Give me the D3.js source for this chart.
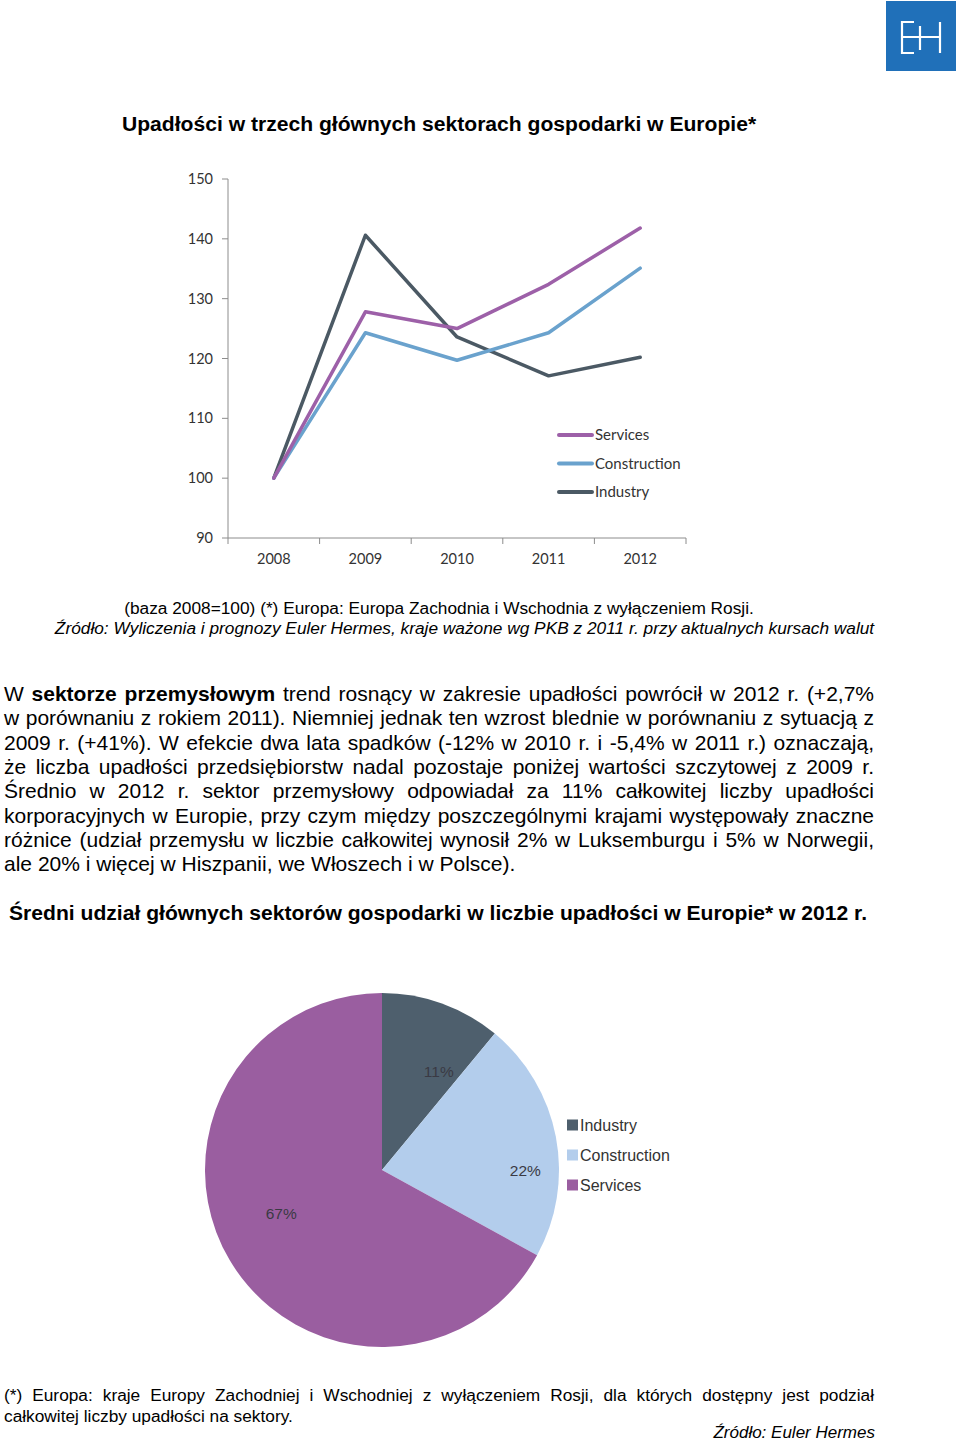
<!DOCTYPE html>
<html><head><meta charset="utf-8">
<script src="https://cdn.jsdelivr.net/npm/d3@7"></script>
<style>
html,body{margin:0;padding:0;background:#fff;}
svg{display:block;}
</style></head>
<body>
<svg id="c" width="960" height="1443"></svg>
<script>
// ---------- data ----------
const years = ["2008","2009","2010","2011","2012"];
const yTicks = [90,100,110,120,130,140,150];
const seriesNames = ["Services","Construction","Industry"];
const servicesValues = [100,127.8,125.0,132.4,141.8];
const constructionValues = [100,124.3,119.7,124.3,135.1];
const industryValues = [100,140.6,123.6,117.1,120.2];
const pieCategories = ["Industry","Construction","Services"];
const pieValues = [11,22,67];
const pieLabels = ["11%","22%","67%"];

const title1 = "Upadłości w trzech głównych sektorach gospodarki w Europie*";
const caption1 = "(baza 2008=100) (*) Europa: Europa Zachodnia i Wschodnia z wyłączeniem Rosji.";
const caption2 = "Źródło: Wyliczenia i prognozy Euler Hermes, kraje ważone wg PKB z 2011 r. przy aktualnych kursach walut";
const paragraphLines = [
  [["W ",0],["sektorze przemysłowym",1],[" trend rosnący w zakresie upadłości powrócił w 2012 r. (+2,7%",0]],
  [["w porównaniu z rokiem 2011). Niemniej jednak ten wzrost blednie w porównaniu z sytuacją z",0]],
  [["2009 r. (+41%). W efekcie dwa lata spadków (-12% w 2010 r. i -5,4% w 2011 r.) oznaczają,",0]],
  [["że liczba upadłości przedsiębiorstw nadal pozostaje poniżej wartości szczytowej z 2009 r.",0]],
  [["Średnio w 2012 r. sektor przemysłowy odpowiadał za 11% całkowitej liczby upadłości",0]],
  [["korporacyjnych w Europie, przy czym między poszczególnymi krajami występowały znaczne",0]],
  [["różnice (udział przemysłu w liczbie całkowitej wynosił 2% w Luksemburgu i 5% w Norwegii,",0]],
  [["ale 20% i więcej w Hiszpanii, we Włoszech i w Polsce).",0]]
];
const title2 = "Średni udział głównych sektorów gospodarki w liczbie upadłości w Europie* w 2012 r.";
const footLines = [
  "(*) Europa: kraje Europy Zachodniej i Wschodniej z wyłączeniem Rosji, dla których dostępny jest podział",
  "całkowitej liczby upadłości na sektory."
];
const footSource = "Źródło: Euler Hermes";

// ---------- setup ----------
const svg = d3.select("#c");
const ARIAL = "'Liberation Sans', Arial, sans-serif";
const CAL = "Lato, 'Open Sans', sans-serif";

// logo
const logo = svg.append("g");
logo.append("rect").attr("x",886).attr("y",1).attr("width",70).attr("height",70).attr("fill","#2070b9");
const lp = d3.path();
lp.moveTo(914,22); lp.lineTo(902,22); lp.lineTo(902,53); lp.lineTo(914,53);
lp.moveTo(902,37); lp.lineTo(940,37);
lp.moveTo(920,26); lp.lineTo(920,50);
lp.moveTo(940,22); lp.lineTo(940,53);
logo.append("path").attr("d",lp.toString()).attr("stroke","#fff").attr("stroke-width",2.2).attr("fill","none");

// title 1
svg.append("text").attr("x",122).attr("y",131).attr("font-family",ARIAL).attr("font-weight","bold")
  .attr("font-size",21.1).attr("fill","#000").text(title1);

// ---------- line chart ----------
const x = d3.scaleBand().domain(years).range([228,686]);
const y = d3.scaleLinear().domain([90,150]).range([538,179]);
const lineColors = {Services:"#9d60a8", Construction:"#6aa2cd", Industry:"#4b5964"};
const seriesData = {Services:servicesValues, Construction:constructionValues, Industry:industryValues};

const axisG = svg.append("g");
axisG.append("line").attr("x1",228).attr("x2",228).attr("y1",y(150)).attr("y2",y(90)).attr("stroke","#8c8c8c");
axisG.append("line").attr("x1",228).attr("x2",686).attr("y1",y(90)).attr("y2",y(90)).attr("stroke","#8c8c8c");
yTicks.forEach(t=>{
  axisG.append("line").attr("x1",222).attr("x2",228).attr("y1",y(t)).attr("y2",y(t)).attr("stroke","#8c8c8c");
  axisG.append("text").attr("x",213).attr("y",y(t)+5).attr("text-anchor","end")
    .attr("font-family",CAL).attr("font-size",14.5).attr("fill","#333").text(t);
});
const bounds = years.map(d=>x(d)).concat([x(years[years.length-1])+x.bandwidth()]);
bounds.forEach(b=>{
  axisG.append("line").attr("x1",b).attr("x2",b).attr("y1",y(90)).attr("y2",y(90)+6).attr("stroke","#8c8c8c");
});
years.forEach(d=>{
  axisG.append("text").attr("x",x(d)+x.bandwidth()/2).attr("y",y(90)+26).attr("text-anchor","middle")
    .attr("font-family",CAL).attr("font-size",14.5).attr("fill","#333").text(d);
});

const line = d3.line().x((v,i)=>x(years[i])+x.bandwidth()/2).y(v=>y(v));
["Industry","Construction","Services"].forEach(n=>{
  svg.append("path").attr("d",line(seriesData[n])).attr("fill","none")
    .attr("stroke",lineColors[n]).attr("stroke-width",3.5).attr("stroke-linejoin","round").attr("stroke-linecap","round");
});
// legend
seriesNames.forEach((n,i)=>{
  const ly = 435 + i*28.5;
  svg.append("line").attr("x1",559).attr("x2",592).attr("y1",ly).attr("y2",ly)
    .attr("stroke",lineColors[n]).attr("stroke-width",4).attr("stroke-linecap","round");
  svg.append("text").attr("x",595).attr("y",ly+5).attr("font-family",CAL).attr("font-size",15)
    .attr("fill","#333").text(n);
});

// captions
svg.append("text").attr("x",439).attr("y",614).attr("text-anchor","middle").attr("font-family",ARIAL)
  .attr("font-size",17.3).attr("fill","#000").text(caption1);
svg.append("text").attr("x",464.5).attr("y",634).attr("text-anchor","middle").attr("font-family",ARIAL)
  .attr("font-style","italic").attr("font-size",17.3).attr("fill","#000").text(caption2);

// ---------- justified text helper ----------
const measure = svg.append("text").attr("x",-1000).attr("y",-1000);
function wordWidth(w, bold, size, italic){
  measure.attr("font-family",ARIAL).attr("font-size",size).attr("font-weight",bold?"bold":"normal")
    .attr("font-style",italic?"italic":"normal").text(w);
  return measure.node().getComputedTextLength();
}
function drawLine(segs, x0, x1, yy, size, justify){
  const words = [];
  segs.forEach(([t,b])=>{
    t.split(" ").forEach(w=>{ if(w.length) words.push({w,b}); });
  });
  words.forEach(o=>o.width=wordWidth(o.w,o.b,size,false));
  const total = d3.sum(words,o=>o.width);
  const gap = justify ? (x1-x0-total)/(words.length-1) : wordWidth("a a",0,size)-wordWidth("aa",0,size);
  let cx = x0;
  words.forEach(o=>{
    svg.append("text").attr("x",cx).attr("y",yy).attr("font-family",ARIAL).attr("font-size",size)
      .attr("font-weight",o.b?"bold":"normal").attr("fill","#000").text(o.w);
    cx += o.width + gap;
  });
}
paragraphLines.forEach((segs,i)=>{
  drawLine(segs, 4, 874, 701 + i*24.3, 21, i < paragraphLines.length-1);
});

// title 2
svg.append("text").attr("x",9).attr("y",920).attr("font-family",ARIAL).attr("font-weight","bold")
  .attr("font-size",21.1).attr("fill","#000").text(title2);

// ---------- pie ----------
const pieColors = {Industry:"#4e5f6d", Construction:"#b3cdec", Services:"#9a5ea0"};
const R = 177, cx0 = 382, cy0 = 1170;
const pie = d3.pie().sort(null).value(d=>d.v);
const pieData = pie(pieCategories.map((c,i)=>({c, v:pieValues[i], l:pieLabels[i]})));
const arc = d3.arc().innerRadius(0).outerRadius(R);
const pg = svg.append("g").attr("transform",`translate(${cx0},${cy0})`);
pg.selectAll("path").data(pieData).enter().append("path").attr("d",arc)
  .attr("fill",d=>pieColors[d.data.c]);
// label placement (radius fraction, angle fraction within slice), like Excel "best fit"
const labelPlace = {Industry:[0.64,0.76], Construction:[0.81,0.64], Services:[0.62,0.53]};
pieData.forEach(d=>{
  const [rf, af] = labelPlace[d.data.c];
  const a = d.startAngle + (d.endAngle-d.startAngle)*af;
  const rr = R*rf;
  pg.append("text").attr("x",Math.sin(a)*rr).attr("y",-Math.cos(a)*rr+5).attr("text-anchor","middle")
    .attr("font-family",ARIAL).attr("font-size",15.5).attr("fill","#3a3a44").text(d.data.l);
});
// pie legend
pieCategories.forEach((c,i)=>{
  const ly = 1125 + i*30;
  svg.append("rect").attr("x",567).attr("y",ly-5.5).attr("width",11).attr("height",11).attr("fill",pieColors[c]);
  svg.append("text").attr("x",580).attr("y",ly+6).attr("font-family",ARIAL).attr("font-size",16)
    .attr("fill","#333").text(c);
});

// footer
drawLine([[footLines[0],0]], 4, 874, 1401, 17.3, true);
drawLine([[footLines[1],0]], 4, 874, 1422, 17.3, false);
svg.append("text").attr("x",875).attr("y",1438).attr("text-anchor","end").attr("font-family",ARIAL)
  .attr("font-style","italic").attr("font-size",17).attr("fill","#000").text(footSource);
measure.remove();
</script>
</body></html>
